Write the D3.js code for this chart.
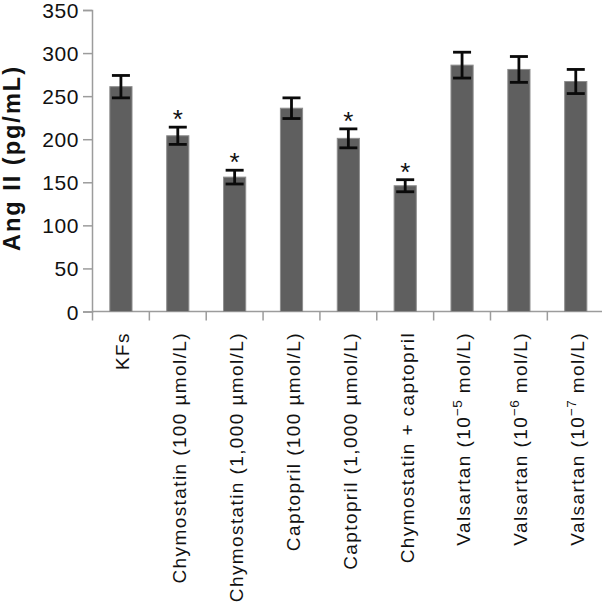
<!DOCTYPE html>
<html>
<head>
<meta charset="utf-8">
<script src="https://cdn.jsdelivr.net/npm/d3@7"></script>
<style>
  html, body { margin: 0; padding: 0; background: #fff; }
  svg { display: block; }
  text { font-family: "Liberation Sans", Arial, Helvetica, sans-serif; }
</style>
</head>
<body>
<script>
// ---- data ----
const categories = [
  ["KFs"],
  ["Chymostatin (100 µmol/L)"],
  ["Chymostatin (1,000 µmol/L)"],
  ["Captopril (100 µmol/L)"],
  ["Captopril (1,000 µmol/L)"],
  ["Chymostatin + captopril"],
  ["Valsartan (10", "−5", " mol/L)"],
  ["Valsartan (10", "−6", " mol/L)"],
  ["Valsartan (10", "−7", " mol/L)"]
];
const means  = [261, 204, 156, 236, 201, 146, 286, 281, 267];
const errors = [13, 10, 8, 12, 11, 7, 15, 15, 14];
const significant = [false, true, true, false, true, true, false, false, false];
const yTicks = [0, 50, 100, 150, 200, 250, 300, 350];
const yTitle = "Ang II (pg/mL)";

// ---- layout ----
const W = 602, H = 605;
const svg = d3.select("body").append("svg").attr("width", W).attr("height", H);
svg.append("rect").attr("width", W).attr("height", H).attr("fill", "#fff");

const idx = categories.map((d, i) => i);
const x = d3.scaleBand().domain(idx).range([92.5, 604.2]).paddingInner(0.61).paddingOuter(0.305);
const y = d3.scaleLinear().domain([0, 350]).range([311.5, 10]);
const axisColor = "#9c9c9c";

// y axis
const yAxis = svg.append("g").attr("transform", "translate(92,0)")
  .call(d3.axisLeft(y).tickValues(yTicks).tickSize(9).tickPadding(4));
yAxis.select(".domain").attr("stroke", axisColor).attr("stroke-width", 1.5);
yAxis.selectAll(".tick line").attr("stroke", axisColor).attr("stroke-width", 1.5);
yAxis.selectAll(".tick text").attr("fill", "#111").style("font-size", "21px")
  .style("letter-spacing", "0.6px").attr("dy", "0.36em");

// x axis line
svg.append("line").attr("x1", 92).attr("x2", 602).attr("y1", y(0)).attr("y2", y(0))
  .attr("stroke", axisColor).attr("stroke-width", 1.5);
// x dividers at band boundaries
const step = x.step();
const start = x.range()[0];
svg.append("g").selectAll("line").data(d3.range(idx.length + 1)).join("line")
  .attr("x1", i => start + i * step).attr("x2", i => start + i * step)
  .attr("y1", y(0)).attr("y2", y(0) + 9)
  .attr("stroke", axisColor).attr("stroke-width", 1.5);

// bars
svg.append("g").selectAll("rect").data(means).join("rect")
  .attr("x", (d, i) => x(i)).attr("width", x.bandwidth())
  .attr("y", d => y(d)).attr("height", d => y(0) - y(d))
  .attr("fill", "#5f5f5f").attr("stroke", "#8e8e8e").attr("stroke-width", 1);

// error bars
const capW = 18;
const eg = svg.append("g").attr("stroke", "#0a0a0a").attr("stroke-width", 2.8);
means.forEach((m, i) => {
  const cx = x(i) + x.bandwidth() / 2;
  const e = errors[i];
  eg.append("line").attr("x1", cx).attr("x2", cx).attr("y1", y(m + e)).attr("y2", y(m - e));
  eg.append("line").attr("x1", cx - capW / 2).attr("x2", cx + capW / 2).attr("y1", y(m + e)).attr("y2", y(m + e));
  eg.append("line").attr("x1", cx - capW / 2).attr("x2", cx + capW / 2).attr("y1", y(m - e)).attr("y2", y(m - e));
});

// asterisks
svg.append("g").selectAll("text").data(idx.filter(i => significant[i])).join("text")
  .attr("x", i => x(i) + x.bandwidth() / 2)
  .attr("y", i => y(means[i] + errors[i]) + 1)
  .attr("text-anchor", "middle").style("font-size", "26px").attr("fill", "#111")
  .text("*");

// x labels
const lab = svg.append("g").selectAll("text").data(idx).join("text")
  .attr("transform", i => `translate(${x(i) + x.bandwidth() / 2 + 1.5},332) rotate(-90)`)
  .attr("text-anchor", "end").attr("dy", "0.36em")
  .style("font-size", "19px").style("letter-spacing", "1.4px").attr("fill", "#111");
lab.each(function(i) {
  const parts = categories[i];
  const t = d3.select(this);
  if (parts.length === 1) { t.text(parts[0]); return; }
  t.append("tspan").text(parts[0]);
  t.append("tspan").attr("dy", -8).style("font-size", "13.5px").style("letter-spacing", "0.3px").text(parts[1]);
  t.append("tspan").attr("dy", 8).text(parts[2]);
});

// y title
svg.append("text").attr("transform", "translate(20,158) rotate(-90)")
  .attr("text-anchor", "middle").style("font-size", "23.5px").style("font-weight", "bold")
  .style("letter-spacing", "2px").attr("fill", "#111").text(yTitle);
</script>
</body>
</html>
